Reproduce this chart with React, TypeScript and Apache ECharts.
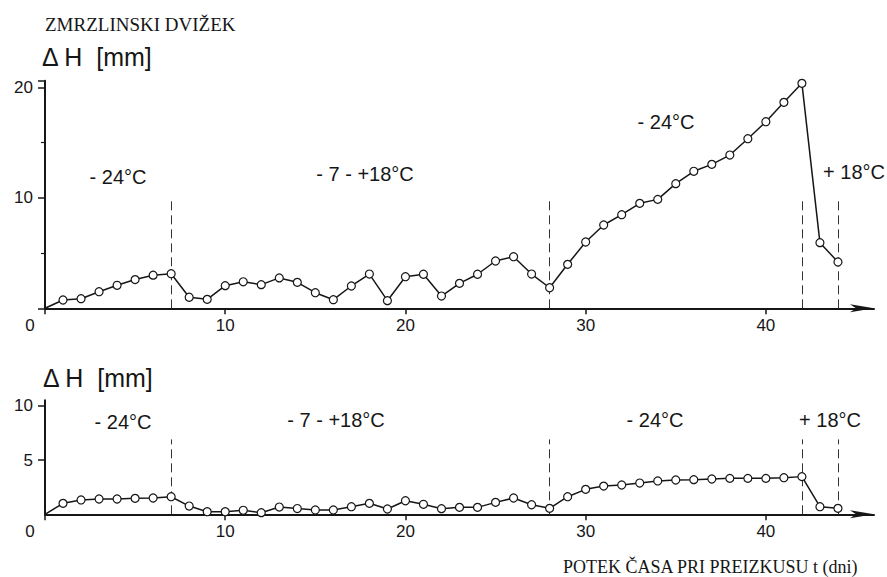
import React, { useEffect, useRef } from "react";
import * as echarts from "echarts";

const days = [0, 1, 2, 3, 4, 5, 6, 7, 8, 9, 10, 11, 12, 13, 14, 15, 16, 17, 18, 19, 20, 21, 22, 23, 24, 25, 26, 27, 28, 29, 30, 31, 32, 33, 34, 35, 36, 37, 38, 39, 40, 41, 42, 43, 44];
const topValues = [0, 0.75, 0.87, 1.5, 2.08, 2.6, 3.0, 3.13, 1.0, 0.81, 2.05, 2.4, 2.14, 2.75, 2.35, 1.41, 0.78, 2.02, 3.1, 0.69, 2.86, 3.08, 1.11, 2.26, 3.08, 4.28, 4.67, 3.1, 1.86, 3.98, 6.0, 7.54, 8.47, 9.5, 9.86, 11.28, 12.4, 13.03, 13.87, 15.35, 16.89, 18.64, 20.36, 5.94, 4.19];
const bottomValues = [0, 1.01, 1.32, 1.41, 1.41, 1.47, 1.5, 1.62, 0.76, 0.24, 0.24, 0.37, 0.15, 0.67, 0.53, 0.4, 0.4, 0.7, 1.01, 0.49, 1.25, 0.92, 0.52, 0.64, 0.64, 1.1, 1.5, 0.88, 0.55, 1.62, 2.3, 2.6, 2.7, 2.88, 3.07, 3.16, 3.19, 3.25, 3.31, 3.31, 3.31, 3.37, 3.47, 0.7, 0.55];
const dividerDays = [7, 28, 42, 44];
const topDividerHeight = 10.1;
const bottomDividerHeight = 6.9;
const xTicks = [0, 10, 20, 30, 40];

const title = "ZMRZLINSKI DVIŽEK";
const yTitle = "Δ H  [mm]";
const xTitle = "POTEK ČASA PRI PREIZKUSU t (dni)";
const topPhaseLabels = ["- 24°C", "- 7 - +18°C", "- 24°C", "+ 18°C"];
const bottomPhaseLabels = ["- 24°C", "- 7 - +18°C", "- 24°C", "+ 18°C"];

const INK = "#161616";
const SANS = "'Liberation Sans', Arial, sans-serif";
const SERIF = "'Liberation Serif', 'Times New Roman', serif";

function seriesData(values: number[]) {
  return days.map((d, i) =>
    i === 0 ? { value: [d, values[i]], symbol: "none" } : { value: [d, values[i]] }
  );
}

function dividers(h: number) {
  return dividerDays.map((d) => [{ coord: [d, 0] }, { coord: [d, h] }]);
}

export default function App() {
  const ref = useRef<HTMLDivElement>(null);
  useEffect(() => {
    if (!ref.current) return;
    const chart = echarts.init(ref.current, undefined, { renderer: "svg" });
    const xAxisBase = (gridIndex: number) => ({
      type: "value",
      gridIndex,
      min: 0,
      max: 46,
      interval: 10,
      axisLine: {
        show: true,
        symbol: ["none", "arrow"],
        symbolSize: [6, 24],
        lineStyle: { color: INK, width: 2 },
      },
      axisTick: { show: true, length: 6, lineStyle: { color: INK, width: 1.5 } },
      splitLine: { show: false },
      axisLabel: {
        color: INK,
        fontFamily: SANS,
        fontSize: 17,
        margin: 9,
        showMaxLabel: false,
        formatter: (v: number) =>
          xTicks.includes(v) ? (v === 0 ? "{z|0}" : String(v)) : "",
        rich: { z: { padding: [0, 30, 0, 0], fontSize: 17, fontFamily: SANS, color: INK } },
      },
    });
    const yAxisBase = (gridIndex: number, max: number, interval: number, minor: boolean) => ({
      type: "value",
      gridIndex,
      min: 0,
      max,
      interval,
      axisLine: { show: true, lineStyle: { color: INK, width: 2 } },
      axisTick: { show: true, length: 7, lineStyle: { color: INK, width: 1.5 } },
      minorTick: { show: minor, splitNumber: 2, length: 4, lineStyle: { color: INK, width: 1.2 } },
      splitLine: { show: false },
      axisLabel: {
        color: INK,
        fontFamily: SANS,
        fontSize: 17,
        margin: 12,
        showMinLabel: false,
        showMaxLabel: false,
      },
    });
    const lineSeries = (idx: number, values: number[], h: number) => ({
      type: "line",
      xAxisIndex: idx,
      yAxisIndex: idx,
      data: seriesData(values),
      symbol: "circle",
      symbolSize: 8,
      showSymbol: true,
      lineStyle: { color: INK, width: 1.5 },
      itemStyle: { color: "#ffffff", borderColor: INK, borderWidth: 1.2 },
      z: 3,
      markLine: {
        silent: true,
        symbol: "none",
        label: { show: false },
        lineStyle: { color: "#333", width: 1, type: [9, 5] },
        data: dividers(h),
        z: 1,
      },
    });
    const txt = (text: string, x: number, y: number, size: number, family: string, align = "center") => ({
      type: "text",
      x,
      y,
      style: {
        text,
        fill: INK,
        font: `${size}px ${family}`,
        align,
        verticalAlign: "middle",
      },
    });
    chart.setOption({
      animation: false,
      backgroundColor: "#ffffff",
      grid: [
        { left: 45, right: 13, top: 80.7, bottom: 268.7 },
        { left: 45, right: 13, top: 400.3, bottom: 62.7 },
      ],
      xAxis: [xAxisBase(0), xAxisBase(1)],
      yAxis: [yAxisBase(0, 20.6, 10, true), yAxisBase(1, 10.5, 5, false)],
      series: [
        lineSeries(0, topValues, topDividerHeight),
        lineSeries(1, bottomValues, bottomDividerHeight),
      ],
      graphic: [
        txt(title, 45, 24, 19, SERIF, "left"),
        txt(yTitle, 42, 57, 25, SANS, "left"),
        txt(yTitle, 43, 378, 25, SANS, "left"),
        txt(xTitle, 563, 567, 18, SERIF, "left"),
        txt(topPhaseLabels[0], 118, 177, 20, SANS),
        txt(topPhaseLabels[1], 365, 174, 20, SANS),
        txt(topPhaseLabels[2], 666, 122, 20, SANS),
        txt(topPhaseLabels[3], 854, 172, 20, SANS),
        txt(bottomPhaseLabels[0], 123, 422, 20, SANS),
        txt(bottomPhaseLabels[1], 336, 420, 20, SANS),
        txt(bottomPhaseLabels[2], 655, 420, 20, SANS),
        txt(bottomPhaseLabels[3], 830, 420, 20, SANS),
      ],
    });
    return () => chart.dispose();
  }, []);
  return (
    <div
      ref={ref}
      style={{ position: "fixed", left: 0, top: 0, width: 887, height: 577, background: "#fff" }}
    />
  );
}
